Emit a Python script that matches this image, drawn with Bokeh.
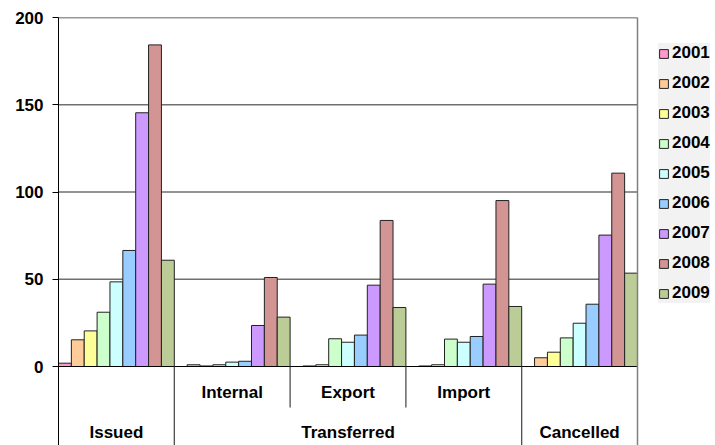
from bokeh.plotting import figure
from bokeh.models import (Range1d, FixedTicker, Legend, LegendItem,
                          ColumnDataSource)
from bokeh.core.properties import value
from bokeh.embed import file_html
from bokeh.resources import INLINE

# ---- data ----
categories = ["Issued", "Internal", "Export", "Import", "Cancelled"]
years = ["2001", "2002", "2003", "2004", "2005", "2006", "2007", "2008", "2009"]
issued = [1.9, 15.3, 20.4, 31.1, 48.5, 66.5, 145.4, 184.3, 60.9]
internal = [0, 1.0, 0.3, 1.0, 2.5, 3.0, 23.5, 51.0, 28.3]
export = [0, 0.3, 1.0, 15.9, 13.9, 18.0, 46.6, 83.7, 33.8]
import_ = [0, 0.3, 1.0, 15.7, 13.9, 17.2, 47.2, 95.1, 34.4]
cancelled = [0, 5.0, 8.2, 16.4, 24.8, 35.7, 75.3, 110.8, 53.5]
y_ticks = [0, 50, 100, 150, 200]
top_groups = ["Issued", "Transferred", "Cancelled"]
transferred_subgroups = ["Internal", "Export", "Import"]
colors = ["#FF99CC", "#FFCC99", "#FFFF99", "#CCFFCC", "#CCFFFF",
          "#99CCFF", "#CC99FF", "#D39494", "#BBCC96"]

series_by_cat = [issued, internal, export, import_, cancelled]
n = len(years)
n_slots = len(categories) * n          # one slot per bar

FONT = "Liberation Sans"
Y_BOTTOM = -45.27
Y_TOP = y_ticks[-1]
X_END = n_slots * 657 / 579            # leaves room on the right for the legend

p = figure(width=715, height=445,
           x_range=Range1d(0, X_END), y_range=Range1d(Y_BOTTOM, Y_TOP),
           output_backend="svg", toolbar_location=None,
           x_axis_location=None,
           min_border_left=58, min_border_right=0,
           min_border_top=17, min_border_bottom=0)
p.outline_line_color = None
p.background_fill_color = "white"
p.border_fill_color = "white"
p.xgrid.visible = False
p.ygrid.visible = False

# y axis
p.yaxis.ticker = FixedTicker(ticks=y_ticks)
p.yaxis.minor_tick_line_color = None
p.yaxis.major_tick_in = 0
p.yaxis.major_tick_out = 6
p.yaxis.major_tick_line_color = "black"
p.yaxis.axis_line_color = "black"
p.yaxis.major_label_standoff = 9
p.yaxis.major_label_text_font = FONT
p.yaxis.major_label_text_font_style = "bold"
p.yaxis.major_label_text_font_size = "17px"
p.yaxis.major_label_text_color = "black"

# horizontal grid lines across the plotting area only
grid_y = [t for t in y_ticks if 0 < t < Y_TOP]
p.segment(x0=[0] * len(grid_y), x1=[n_slots] * len(grid_y), y0=grid_y, y1=grid_y,
          line_color="#707070", line_width=1.5)

# bars
items = []
for j, yr in enumerate(years):
    src = ColumnDataSource(dict(x=[ci * n + j + 0.5 for ci in range(len(categories))],
                                top=[s[j] for s in series_by_cat]))
    r = p.vbar(x="x", top="top", bottom=0, width=1, source=src,
               fill_color=colors[j], line_color="#222222", line_width=1)
    items.append(LegendItem(label=yr, renderers=[r]))

# frame lines: baseline, top line, right border
p.segment(x0=[0], x1=[n_slots], y0=[0], y1=[0], line_color="black", line_width=1.2)
p.segment(x0=[0], x1=[n_slots], y0=[Y_TOP], y1=[Y_TOP], line_color="#333333", line_width=1.5)
p.segment(x0=[n_slots], x1=[n_slots], y0=[Y_BOTTOM], y1=[Y_TOP], line_color="#808080", line_width=1.5)

# category dividers
first_sub = categories.index(transferred_subgroups[0])
last_sub = categories.index(transferred_subgroups[-1])
full_x = [first_sub * n, (last_sub + 1) * n]
short_x = [k * n for k in range(first_sub + 1, last_sub + 1)]
p.segment(x0=full_x, x1=full_x, y0=[0] * len(full_x), y1=[Y_BOTTOM] * len(full_x),
          line_color="#404040", line_width=1.2)
p.segment(x0=short_x, x1=short_x, y0=[0] * len(short_x), y1=[-23.5] * len(short_x),
          line_color="#404040", line_width=1.2)

# category labels
sub_x = [categories.index(s) * n + n / 2 for s in transferred_subgroups]
p.text(x=sub_x, y=[-14.9] * 3, text=transferred_subgroups,
       text_font=value(FONT), text_font_style="bold", text_font_size="17px",
       text_align="center", text_baseline="middle", text_color="black")
top_x = [n / 2, (first_sub * n + (last_sub + 1) * n) / 2, (len(categories) - 0.5) * n]
p.text(x=top_x, y=[-37.8] * 3, text=top_groups,
       text_font=value(FONT), text_font_style="bold", text_font_size="17px",
       text_align="center", text_baseline="middle", text_color="black")

legend = Legend(items=items, location=(600, 142))
legend.background_fill_color = "#f2f2f2"
legend.background_fill_alpha = 1
legend.border_line_color = None
legend.label_text_font = FONT
legend.label_text_font_style = "bold"
legend.label_text_font_size = "17px"
legend.label_text_color = "black"
legend.glyph_width = 11
legend.glyph_height = 11
legend.label_height = 20
legend.label_standoff = 3
legend.spacing = 10
legend.padding = 6
legend.margin = 0
p.add_layout(legend, "center")

open("out.html", "w").write(file_html(p, INLINE))
